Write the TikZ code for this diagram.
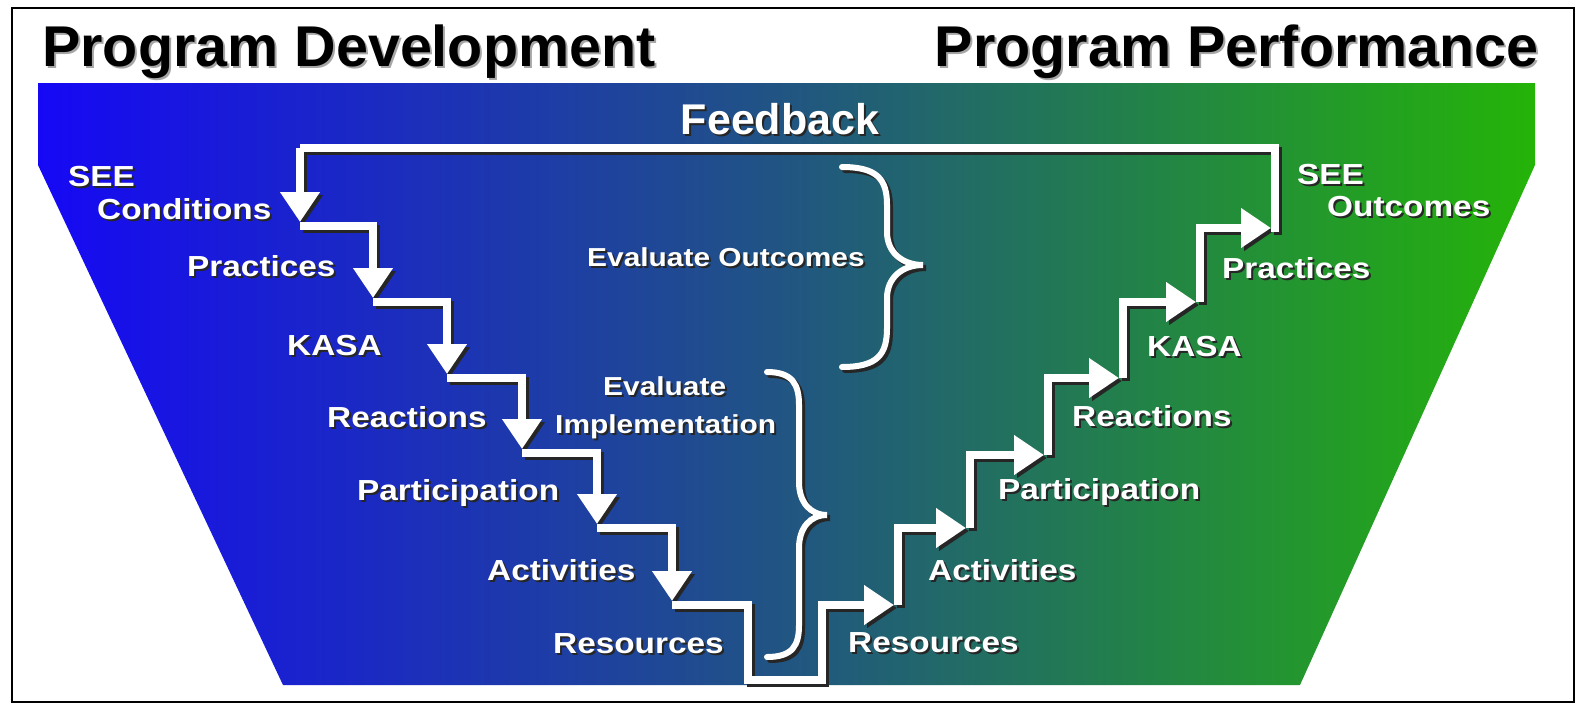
\documentclass[tikz,border=0pt]{standalone}
\usepackage{fontspec}
\setmainfont{Liberation Sans}
\newfontfamily\lblfont[FakeStretch=1.15]{Liberation Sans}
\usetikzlibrary{arrows.meta}
\definecolor{gblue}{RGB}{22,8,245}
\definecolor{gmid}{RGB}{33,85,130}
\definecolor{ggreen}{RGB}{36,180,8}
\pgfdeclarehorizontalshading{bgshade}{100bp}{color(0bp)=(gblue); color(25bp)=(gblue); color(50bp)=(gmid); color(75bp)=(ggreen); color(100bp)=(ggreen)}
\tikzset{
  stair/.style={line width=7.5pt, line join=miter, -{Triangle[width=38pt,length=30pt]}},
  stairplain/.style={line width=7.5pt, line join=miter},
  bracestyle/.style={line width=6pt, line cap=round},
  lbl/.style={font=\lblfont\bfseries\fontsize{29}{29}\selectfont, inner sep=0pt},
  evl/.style={font=\lblfont\bfseries\fontsize{26}{26}\selectfont, inner sep=0pt},
  ttl/.style={font=\bfseries\fontsize{57.5}{58}\selectfont, inner sep=0pt},
  fbk/.style={font=\bfseries\fontsize{43}{43}\selectfont, inner sep=0pt},
}
\newcommand\shtext[5]{% #1 name, #2 coord, #3 style, #4 anchor, #5 text
  \node[#3, text=black!85, anchor=#4, xshift=2pt, yshift=-2pt] at (#2) {#5};
  \node[#3, text=white, anchor=#4] (#1) at (#2) {#5};}
\newcommand\stairpaths[1]{%
  \draw[stairplain,#1] (R6) -- (FT) -- (FL);
  \draw[stair,#1] (FL) -- (T1);
  \draw[stair,#1] (C1) -- (H1) -- (T2);
  \draw[stair,#1] (C2) -- (H2) -- (T3);
  \draw[stair,#1] (C3) -- (H3) -- (T4);
  \draw[stair,#1] (C4) -- (H4) -- (T5);
  \draw[stair,#1] (C5) -- (H5) -- (T6);
  \draw[stair,#1] (C6) -- (H6) -- (B1) -- (B2) -- (B3) -- (U1);
  \draw[stair,#1] (D1) -- (V1) -- (U2);
  \draw[stair,#1] (D2) -- (V2) -- (U3);
  \draw[stair,#1] (D3) -- (V3) -- (U4);
  \draw[stair,#1] (D4) -- (V4) -- (U5);
  \draw[stair,#1] (D5) -- (V5) -- (U6);
}
\newcommand\bracepaths[1]{%
  \draw[bracestyle,#1] (842,167) .. controls (878,167) and (887,180) .. (887,205) -- (887,232)
     .. controls (887,252) and (902,265) .. (923,265)
     .. controls (902,265) and (887,278) .. (887,298) -- (887,328)
     .. controls (887,354) and (878,367) .. (842,367);
  \draw[bracestyle,#1] (767,372) .. controls (793,372) and (799,385) .. (799,405) -- (799,482)
     .. controls (799,502) and (810,515) .. (827,515)
     .. controls (810,515) and (799,528) .. (799,548) -- (799,625)
     .. controls (799,645) and (793,657) .. (767,657);
}
\begin{document}
\begin{tikzpicture}[x=1pt,y=-1pt]
\useasboundingbox (0,0) rectangle (1576,704);
\fill[white] (0,0) rectangle (1576,704);
\draw[line width=2.5pt] (12,8) rectangle (1574,702);
% background trapezoid
\shade[shading=bgshade] (38,83) -- (1535,83) -- (1535,165) -- (1300,685) -- (283,685) -- (38,165) -- cycle;
% titles
\node[ttl, text=black!35, anchor=base west, xshift=2pt, yshift=-2pt] at (42,66) {Program Development};
\node[ttl, anchor=base west] (tdev) at (42,66) {Program Development};
\node[ttl, text=black!35, anchor=base east, xshift=2pt, yshift=-2pt] at (1539,66) {Program Performance};
\node[ttl, anchor=base east] (tperf) at (1539,66) {Program Performance};
% coordinates of the stairs
\coordinate (FT) at (1275,148);
\coordinate (FL) at (300,148);
\coordinate (T1) at (300,222);
\coordinate (C1) at (300,226); \coordinate (H1) at (373,226); \coordinate (T2) at (373,298);
\coordinate (C2) at (373,302); \coordinate (H2) at (447,302); \coordinate (T3) at (447,374);
\coordinate (C3) at (447,378); \coordinate (H3) at (522,378); \coordinate (T4) at (522,449);
\coordinate (C4) at (522,453); \coordinate (H4) at (597,453); \coordinate (T5) at (597,524);
\coordinate (C5) at (597,528); \coordinate (H5) at (672,528); \coordinate (T6) at (672,601);
\coordinate (C6) at (672,605); \coordinate (H6) at (748,605);
\coordinate (B1) at (748,680); \coordinate (B2) at (822,680); \coordinate (B3) at (822,605);
\coordinate (U1) at (894,605);
\coordinate (D1) at (898,605); \coordinate (V1) at (898,528); \coordinate (U2) at (966,528);
\coordinate (D2) at (970,528); \coordinate (V2) at (970,455); \coordinate (U3) at (1044,455);
\coordinate (D3) at (1048,455); \coordinate (V3) at (1048,378); \coordinate (U4) at (1119,378);
\coordinate (D4) at (1123,378); \coordinate (V4) at (1123,302); \coordinate (U5) at (1196,302);
\coordinate (D5) at (1200,302); \coordinate (V5) at (1200,228); \coordinate (U6) at (1271,228);
\coordinate (R6) at (1275,232);
% shadows
\begin{scope}[transform canvas={shift={(3,3)}}]
  \stairpaths{black!85}
  \bracepaths{black!85}
\end{scope}
\stairpaths{white}
\bracepaths{white}
% labels
\shtext{fb}{780,134}{fbk}{base}{Feedback}
\shtext{lsee}{68,186}{lbl}{base west}{SEE}
\shtext{lcond}{97,219}{lbl}{base west}{Conditions}
\shtext{lprac}{187,276}{lbl}{base west}{Practices}
\shtext{lkasa}{287,355}{lbl}{base west}{KASA}
\shtext{lreac}{327,427}{lbl}{base west}{Reactions}
\shtext{lpart}{357,500}{lbl}{base west}{Participation}
\shtext{lact}{487,580}{lbl}{base west}{Activities}
\shtext{lres}{553,653}{lbl}{base west}{Resources}
\shtext{rres}{848,652}{lbl}{base west}{Resources}
\shtext{ract}{928,580}{lbl}{base west}{Activities}
\shtext{rpart}{998,499}{lbl}{base west}{Participation}
\shtext{rreac}{1072,426}{lbl}{base west}{Reactions}
\shtext{rkasa}{1147,356}{lbl}{base west}{KASA}
\shtext{rprac}{1222,278}{lbl}{base west}{Practices}
\shtext{rsee}{1297,184}{lbl}{base west}{SEE}
\shtext{rout}{1327,216}{lbl}{base west}{Outcomes}
\shtext{evo}{587,266}{evl}{base west}{Evaluate Outcomes}
\shtext{evi1}{603,395}{evl}{base west}{Evaluate}
\shtext{evi2}{555,433}{evl}{base west}{Implementation}
\end{tikzpicture}
\end{document}
